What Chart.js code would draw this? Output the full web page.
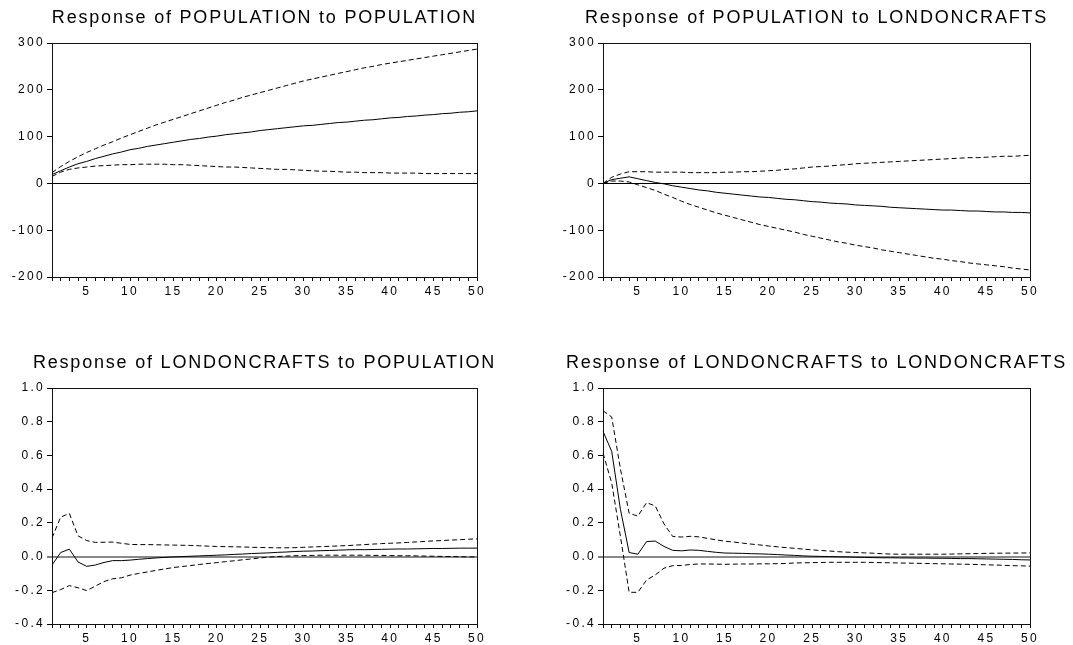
<!DOCTYPE html>
<html>
<head>
<meta charset="utf-8">
<script src="https://cdn.jsdelivr.net/npm/chart.js@4/dist/chart.umd.min.js"></script>
<style>
  html, body { margin: 0; padding: 0; background: #fff; overflow: hidden; }
  body { width: 1073px; height: 645px; position: relative; }
  canvas { position: absolute; }
</style>
</head>
<body>
<canvas id="c1"></canvas>
<canvas id="c2"></canvas>
<canvas id="c3"></canvas>
<canvas id="c4"></canvas>
<script>
// Impulse-response horizon (periods)
const periods = [1,2,3,4,5,6,7,8,9,10,11,12,13,14,15,16,17,18,19,20,21,22,23,24,25,
                 26,27,28,29,30,31,32,33,34,35,36,37,38,39,40,41,42,43,44,45,46,47,48,49,50];

// Y tick values
const popTicks = [-200, -100, 0, 100, 200, 300];
const craftTicks = [-0.4, -0.2, 0.0, 0.2, 0.4, 0.6, 0.8, 1.0];

// Panel titles
const titles = [
  "Response of POPULATION to POPULATION",
  "Response of POPULATION to LONDONCRAFTS",
  "Response of LONDONCRAFTS to POPULATION",
  "Response of LONDONCRAFTS to LONDONCRAFTS"
];

// Response of POPULATION to POPULATION
const popPopIrf = [19,27,35,42,47,53,58,63,67,72,75,79,82,85,88,91,94,96,99,101,
  104,106,108,110,113,115,117,119,121,123,124,126,128,130,131,133,135,136,138,140,
  141,143,144,146,147,149,150,152,153,155];
const popPopUpper = [23,36,47,57,66,74,82,89,97,104,111,118,125,131,137,143,149,155,161,167,
  173,178,184,189,194,199,204,209,214,219,223,227,231,235,239,243,247,250,254,257,
  260,263,266,269,272,275,278,281,284,287];
const popPopLower = [15,24,30,33,35,37,38,39,40,40,41,41,41,41,40,40,39,38,37,36,
  35,35,34,33,32,31,30,30,29,28,27,26,26,25,24,24,23,23,23,22,
  22,22,22,21,21,21,21,21,21,21];

// Response of POPULATION to LONDONCRAFTS
const popCraftIrf = [0,8,11,14,10,6,2,-1,-5,-8,-11,-14,-16,-19,-21,-23,-25,-27,-29,-30,
  -32,-34,-35,-37,-39,-40,-42,-43,-44,-46,-47,-48,-49,-51,-52,-53,-54,-55,-56,-57,
  -57,-58,-59,-59,-60,-61,-61,-62,-62,-63];
const popCraftUpper = [0,13,20,25,25,25,24,24,24,24,23,23,23,23,24,24,25,25,26,27,
  28,30,31,33,35,36,37,39,40,42,43,44,45,46,47,48,49,50,51,52,
  53,54,55,55,56,57,58,58,59,60];
const popCraftLower = [0,5,5,3,-3,-9,-15,-23,-30,-38,-45,-51,-57,-63,-68,-73,-78,-83,-88,-92,
  -96,-100,-104,-109,-113,-117,-121,-125,-128,-132,-135,-138,-142,-145,-148,-151,-154,-157,-160,-162,
  -165,-167,-170,-172,-174,-176,-178,-181,-183,-185];

// Response of LONDONCRAFTS to POPULATION
const craftPopIrf = [-0.05,0.024,0.044,-0.032,-0.058,-0.05,-0.035,-0.024,-0.024,-0.021,
  -0.016,-0.012,-0.008,-0.005,-0.002,0.000,0.002,0.004,0.006,0.008,
  0.010,0.013,0.015,0.018,0.020,0.022,0.025,0.027,0.030,0.032,
  0.033,0.035,0.036,0.038,0.040,0.041,0.041,0.042,0.043,0.044,
  0.045,0.045,0.046,0.047,0.048,0.048,0.049,0.050,0.050,0.050];
const craftPopUpper = [0.11,0.234,0.256,0.123,0.095,0.084,0.085,0.086,0.079,0.072,
  0.071,0.071,0.070,0.069,0.068,0.067,0.066,0.064,0.062,0.060,
  0.059,0.058,0.057,0.055,0.054,0.053,0.052,0.052,0.053,0.055,
  0.057,0.059,0.061,0.063,0.065,0.068,0.071,0.074,0.077,0.079,
  0.081,0.084,0.087,0.090,0.093,0.095,0.098,0.100,0.103,0.105];
const craftPopLower = [-0.214,-0.196,-0.172,-0.185,-0.202,-0.175,-0.148,-0.132,-0.126,-0.110,
  -0.100,-0.091,-0.082,-0.073,-0.065,-0.059,-0.053,-0.047,-0.041,-0.036,
  -0.030,-0.025,-0.019,-0.014,-0.008,-0.003,0.000,0.003,0.005,0.006,
  0.007,0.008,0.008,0.008,0.008,0.008,0.008,0.007,0.007,0.006,
  0.005,0.005,0.004,0.003,0.002,0.001,0.000,-0.001,-0.002,-0.002];

// Response of LONDONCRAFTS to LONDONCRAFTS
const craftCraftIrf = [0.743,0.624,0.28,0.024,0.014,0.089,0.092,0.060,0.037,0.034,
  0.039,0.037,0.031,0.025,0.021,0.020,0.019,0.017,0.016,0.014,
  0.012,0.009,0.007,0.004,0.002,0.001,0.000,-0.001,-0.002,-0.004,
  -0.005,-0.006,-0.007,-0.007,-0.008,-0.008,-0.009,-0.009,-0.010,-0.010,
  -0.011,-0.012,-0.012,-0.013,-0.014,-0.015,-0.016,-0.017,-0.019,-0.020];
const craftCraftUpper = [0.865,0.828,0.52,0.257,0.240,0.320,0.300,0.194,0.119,0.116,
  0.120,0.117,0.108,0.099,0.091,0.086,0.080,0.074,0.069,0.063,
  0.058,0.053,0.049,0.044,0.040,0.036,0.033,0.029,0.026,0.024,
  0.022,0.020,0.017,0.015,0.014,0.014,0.014,0.014,0.014,0.014,
  0.015,0.016,0.017,0.018,0.019,0.020,0.020,0.021,0.021,0.022];
const craftCraftLower = [0.614,0.436,0.12,-0.212,-0.212,-0.139,-0.109,-0.069,-0.054,-0.053,
  -0.047,-0.044,-0.044,-0.045,-0.046,-0.045,-0.044,-0.044,-0.043,-0.043,
  -0.042,-0.041,-0.038,-0.037,-0.036,-0.035,-0.034,-0.034,-0.034,-0.034,
  -0.034,-0.035,-0.036,-0.037,-0.038,-0.039,-0.040,-0.041,-0.042,-0.043,
  -0.044,-0.045,-0.046,-0.047,-0.049,-0.050,-0.052,-0.054,-0.055,-0.057];

const FONT = "'Liberation Sans', Arial, sans-serif";
const GUTTER = 60;          // room for the value axis, mirrored on the right
const TITLE_SIZE = 18;
const TICK_SIZE = 12;
const TITLE_SPACING = '1.8px';
const TICK_SPACING = '2.3px';

// Open lettering: titles get one spacing, axis labels (drawn after the lines) another
const spacingPlugin = {
  id: 'spacing',
  beforeLayout(chart) { chart.ctx.letterSpacing = TITLE_SPACING; },
  beforeDraw(chart) { chart.ctx.letterSpacing = TITLE_SPACING; },
  afterDatasetsDraw(chart) { chart.ctx.letterSpacing = TICK_SPACING; },
  afterDraw(chart) { chart.ctx.letterSpacing = TITLE_SPACING; }
};

// Closed box around the plotting area
const framePlugin = {
  id: 'frame',
  afterDatasetsDraw(chart) {
    const a = chart.chartArea;
    const ctx = chart.ctx;
    ctx.save();
    ctx.strokeStyle = '#111';
    ctx.lineWidth = 1;
    ctx.strokeRect(Math.round(a.left) + 0.5, Math.round(a.top) + 0.5,
                   Math.round(a.right - a.left), Math.round(a.bottom - a.top));
    ctx.restore();
  }
};

function makePanel(id, spec) {
  const canvas = document.getElementById(id);
  const canvasLeft = spec.plotLeft - GUTTER;
  const canvasW = (spec.plotRight - spec.plotLeft) + 2 * GUTTER;
  const canvasH = spec.canvasHeight;
  canvas.width = canvasW;
  canvas.height = canvasH;
  canvas.style.left = canvasLeft + 'px';
  canvas.style.top = spec.canvasTop + 'px';
  canvas.style.width = canvasW + 'px';
  canvas.style.height = canvasH + 'px';

  const xAxisHeight = canvasH - (spec.plotBottom - spec.canvasTop);
  const titleCenter = spec.titleY - spec.canvasTop;
  const titleLine = TITLE_SIZE * 1.2;
  const titlePadTop = titleCenter - titleLine / 2;
  const titlePadBottom = (spec.plotTop - spec.canvasTop) - titlePadTop - titleLine;

  const line = (data, dashed) => ({
    data: data,
    yAxisID: 'y',
    borderColor: '#000',
    borderWidth: 1,
    borderDash: dashed ? [5, 3] : [],
    pointRadius: 0,
    tension: 0,
    fill: false
  });

  return new Chart(canvas, {
    type: 'line',
    data: {
      labels: periods,
      datasets: [line(spec.irf, false), line(spec.upper, true), line(spec.lower, true)]
    },
    options: {
      responsive: false,
      animation: false,
      devicePixelRatio: 1,
      layout: { padding: 0 },
      plugins: {
        legend: { display: false },
        tooltip: { enabled: false },
        title: {
          display: true,
          text: spec.title,
          color: '#000',
          font: { family: FONT, size: TITLE_SIZE, weight: 'normal', lineHeight: 1.2 },
          padding: { top: titlePadTop, bottom: titlePadBottom }
        }
      },
      scales: {
        x: {
          type: 'category',
          offset: false,
          border: { display: false },
          grid: { drawOnChartArea: false, drawTicks: true, tickLength: 4, tickColor: '#000', tickWidth: 1 },
          ticks: {
            z: 1,
            autoSkip: false,
            maxRotation: 0,
            padding: 3,
            color: '#000',
            font: { family: FONT, size: TICK_SIZE },
            callback: (v, i) => (periods[i] % 5 === 0 ? String(periods[i]) : '')
          },
          afterFit: s => { s.height = xAxisHeight; }
        },
        y: {
          position: 'left',
          min: spec.ticks[0],
          max: spec.ticks[spec.ticks.length - 1],
          border: { display: false },
          afterBuildTicks: s => { s.ticks = spec.ticks.map(v => ({ value: v })); },
          grid: {
            drawOnChartArea: true,
            drawTicks: true,
            tickLength: 5,
            tickColor: '#000',
            tickWidth: 1,
            color: c => (c.tick && Math.abs(c.tick.value) < 1e-9 ? spec.zeroColor : 'rgba(0,0,0,0)'),
            lineWidth: c => (c.tick && Math.abs(c.tick.value) < 1e-9 ? spec.zeroWidth : 1)
          },
          ticks: {
            z: 1,
            padding: 2,
            color: '#000',
            font: { family: FONT, size: TICK_SIZE },
            callback: v => spec.fmt(v)
          },
          afterFit: s => { s.width = GUTTER; }
        },
        // empty right-hand spacer keeps the plot centred under its title
        spacer: {
          type: 'linear',
          position: 'right',
          display: true,
          border: { display: false },
          grid: { display: false, drawTicks: false },
          ticks: { display: false },
          afterFit: s => { s.width = GUTTER; }
        }
      }
    },
    plugins: [spacingPlugin, framePlugin]
  });
}

const fmtInt = v => String(Math.round(v));
const fmtDec = v => (Math.abs(v) < 1e-9 ? 0 : v).toFixed(1);

const TOP = { canvasTop: 0, canvasHeight: 310, titleY: 18, plotTop: 43, plotBottom: 277 };
const BOT = { canvasTop: 320, canvasHeight: 325, titleY: 363, plotTop: 388, plotBottom: 624 };
const LEFTCOL = { plotLeft: 52, plotRight: 477 };
const RIGHTCOL = { plotLeft: 603, plotRight: 1030 };

makePanel('c1', Object.assign({}, TOP, LEFTCOL, {
  title: titles[0], irf: popPopIrf, upper: popPopUpper, lower: popPopLower,
  ticks: popTicks, fmt: fmtInt, zeroColor: '#000', zeroWidth: 1
}));
makePanel('c2', Object.assign({}, TOP, RIGHTCOL, {
  title: titles[1], irf: popCraftIrf, upper: popCraftUpper, lower: popCraftLower,
  ticks: popTicks, fmt: fmtInt, zeroColor: '#000', zeroWidth: 1
}));
makePanel('c3', Object.assign({}, BOT, LEFTCOL, {
  title: titles[2], irf: craftPopIrf, upper: craftPopUpper, lower: craftPopLower,
  ticks: craftTicks, fmt: fmtDec, zeroColor: '#8a8a8a', zeroWidth: 2
}));
makePanel('c4', Object.assign({}, BOT, RIGHTCOL, {
  title: titles[3], irf: craftCraftIrf, upper: craftCraftUpper, lower: craftCraftLower,
  ticks: craftTicks, fmt: fmtDec, zeroColor: '#8a8a8a', zeroWidth: 2
}));
</script>
</body>
</html>
